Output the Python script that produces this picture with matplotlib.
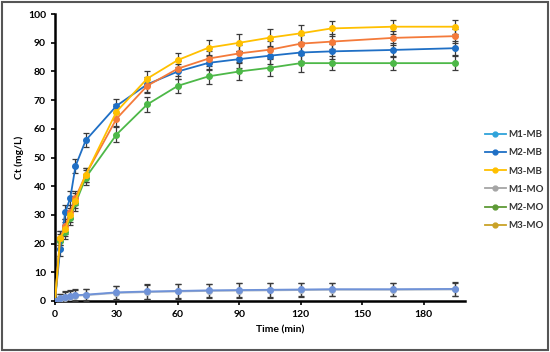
import numpy as np
import matplotlib.pyplot as plt
from matplotlib.lines import Line2D
from matplotlib.patches import Rectangle

plt.rcParams['font.family'] = ['Lato', 'DejaVu Sans']

# time points (min)
time = [0, 2.5, 5, 7.5, 10, 15, 30, 45, 60, 75, 90, 105, 120, 135, 165, 195]

# concentrations Ct (mg/L)
m1_mb = [0, 1.0, 1.4, 1.7, 2.0, 2.2, 3.0, 3.3, 3.5, 3.7, 3.8, 3.9, 4.0, 4.1, 4.1, 4.2]
m2_mb = [0, 18, 31, 36, 47, 56, 68, 75.5, 80, 83, 84.3, 85.5, 86.6, 87, 87.5, 88.1]
m3_mb = [0, 22, 25, 30, 35, 44, 66, 77.5, 84, 88.3, 90, 91.8, 93.3, 95, 95.6, 95.6]
m1_mo = [0, 0.8, 1.2, 1.5, 1.8, 2.0, 2.8, 3.1, 3.3, 3.5, 3.6, 3.7, 3.8, 3.9, 3.9, 4.0]
m2_mo = [0, 21, 24, 29, 34, 43, 58, 68.5, 75, 78.3, 80, 81.3, 82.9, 82.9, 82.9, 82.9]
m3_mo = [0, 22, 26, 31, 36, 44, 63.5, 75, 81, 84.5, 86.3, 87.6, 89.7, 90.4, 91.7, 92.3]

err_low = [0, 1.5, 2, 2, 2, 2, 2.3, 2.5, 2.5, 2.3, 2.5, 2.5, 2.3, 2.3, 2.3, 2.3]
err_high = [0, 2.5, 2.5, 2.5, 2.5, 2.5, 2.5, 2.5, 2.5, 2.5, 3, 3, 3, 2.5, 2.5, 2.5]

labels = ['M1-MB', 'M2-MB', 'M3-MB', 'M1-MO', 'M2-MO', 'M3-MO']
series = [m1_mb, m2_mb, m3_mb, m1_mo, m2_mo, m3_mo]
errs = [err_low, err_high, err_high, err_low, err_high, err_high]
plot_colors = ['#6F92D8', '#1F6FC5', '#FFC000', '#A8B4C4', '#4DB848', '#F47A3A']
legend_colors = ['#2FA3DA', '#1F6FC5', '#FFC000', '#A5A5A5', '#5E9A36', '#C9A227']

fig = plt.figure(figsize=(5.5, 3.52), dpi=100)
fig.patches.append(Rectangle((0.004, 0.005), 0.992, 0.99, transform=fig.transFigure,
                             fill=False, edgecolor='#555555', linewidth=1.5))
ax = fig.add_axes([0.1, 0.145, 0.745, 0.815])

order = [4, 1, 5, 2, 3, 0]
for i in order:
    ax.errorbar(time, series[i], yerr=errs[i], color=plot_colors[i], marker='o',
                markersize=4, linewidth=1.3, ecolor='#3a3a3a', elinewidth=0.9,
                capsize=2, capthick=0.9, zorder=3)

ax.set_xlim(0, 200)
ax.set_ylim(0, 100)
ax.set_xticks(range(0, 181, 30))
ax.set_yticks(range(0, 101, 10))
for s in ['top', 'right']:
    ax.spines[s].set_visible(False)
for s in ['left', 'bottom']:
    ax.spines[s].set_linewidth(1.8)
ax.tick_params(direction='out', length=3, width=1.2, labelsize=7.5)
for lbl in ax.get_xticklabels() + ax.get_yticklabels():
    lbl.set_fontweight('bold')
ax.set_xlabel('Time (min)', fontsize=7.5, fontweight='bold')
ax.xaxis.set_label_coords(0.55, -0.085)
ax.set_ylabel('Ct (mg/L)', fontsize=7.5, fontweight='bold')
ax.yaxis.set_label_coords(-0.075, 0.5)

handles = [Line2D([0], [0], color=c, marker='o', markersize=3.5, linewidth=1.3)
           for c in legend_colors]
leg = fig.legend(handles, labels, loc='upper left', bbox_to_anchor=(0.865, 0.655),
                 frameon=False, fontsize=7, handlelength=2.2, handletextpad=0.2,
                 labelspacing=0.95)
for t in leg.get_texts():
    t.set_fontweight('bold')
    t.set_color('#333333')

fig.savefig('out.png', dpi=100)
